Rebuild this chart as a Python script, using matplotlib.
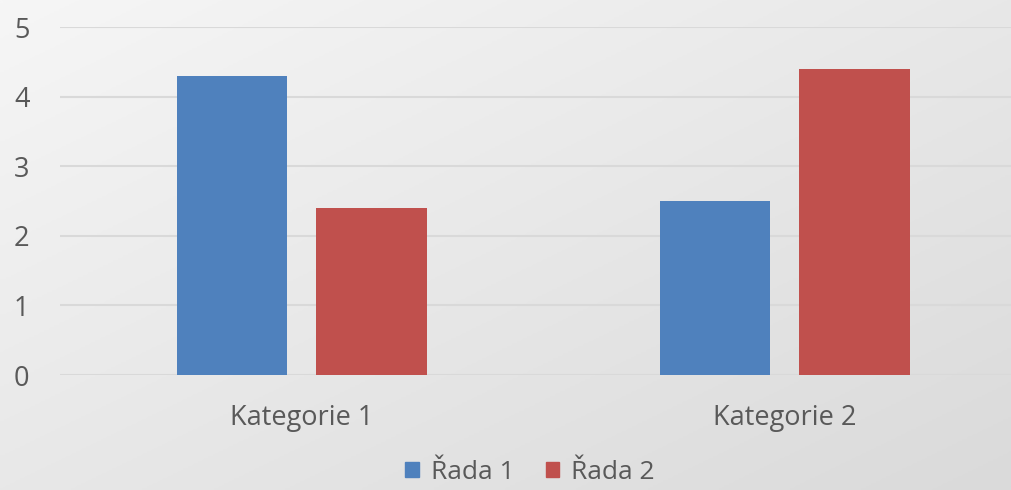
import numpy as np
import matplotlib.pyplot as plt
from matplotlib.patches import Rectangle
from matplotlib.colors import LinearSegmentedColormap

categories = ['Kategorie 1', 'Kategorie 2']
series_names = ['Řada 1', 'Řada 2']
rada1 = [4.3, 2.5]
rada2 = [2.4, 4.4]
colors = ['#4f81bd', '#c0504d']

plt.rcParams['font.family'] = ['Open Sans', 'DejaVu Sans']

fig = plt.figure(figsize=(10.12, 4.90), dpi=100)

# pozadí s diagonálním přechodem
bg = fig.add_axes([0, 0, 1, 1], zorder=-10)
gx, gy = np.meshgrid(np.linspace(0, 1, 200), np.linspace(0, 1, 200))
grad = (gx + gy) / 2
bg.imshow(grad, cmap=LinearSegmentedColormap.from_list('g', ['#f6f6f6', '#dadada']),
          aspect='auto', extent=[0, 1, 0, 1], origin='upper')
bg.axis('off')

ax = fig.add_axes([60 / 1012, 115 / 490, 966 / 1012, 348 / 490])
ax.patch.set_alpha(0)

x = np.arange(len(categories))
w = 0.228
ax.bar(x - 0.143, rada1, w, color=colors[0], zorder=3)
ax.bar(x + 0.145, rada2, w, color=colors[1], zorder=3)

ax.set_xlim(-0.5, 1.5)
ax.set_ylim(0, 5)
ax.set_yticks(range(6))
ax.yaxis.grid(True, color='#d9d9d9', linewidth=1.5, zorder=0)
ax.set_xticks(x)
ax.set_xticklabels(categories)
ax.tick_params(axis='both', length=0, labelsize=19.5, labelcolor='#595959')
ax.tick_params(axis='y', pad=22)
ax.tick_params(axis='x', pad=21)
for s in ax.spines.values():
    s.set_visible(False)

handles = [Rectangle((0, 0), 1, 1, color=c) for c in colors]
fig.legend(handles, series_names, loc='center', bbox_to_anchor=(530 / 1012, 1 - 472 / 490),
           ncol=2, frameon=False, fontsize=19, labelcolor='#595959',
           handlelength=0.5, handleheight=0.5, handletextpad=0.45, columnspacing=1.2)

fig.savefig('out.png', dpi=100)
